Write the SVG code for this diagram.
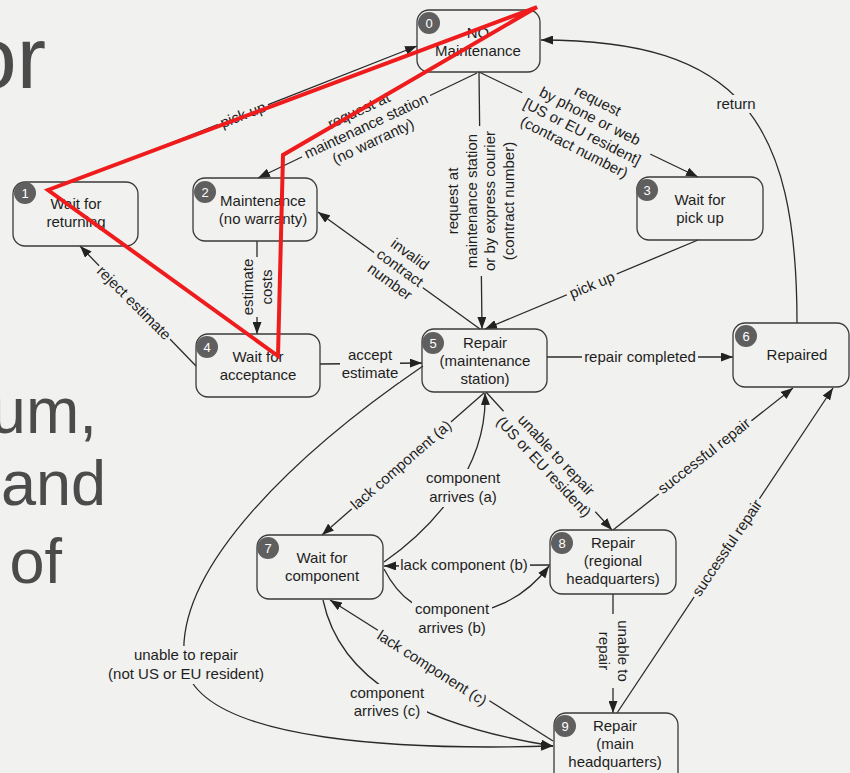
<svg xmlns="http://www.w3.org/2000/svg" width="850" height="773" viewBox="0 0 850 773">
<style>
.bg{fill:#f1f1ef}
.n{fill:none;stroke:#3a3a3a;stroke-width:1.3}
.c{fill:none;stroke:#2a2a2a;stroke-width:1.3}
.a{marker-end:url(#ah)}
.t{font-family:"Liberation Sans",Arial,sans-serif;font-size:15px;fill:#1e1e1e;text-anchor:middle}
.b{fill:#5f5f5f}
.bt{font-family:"Liberation Sans",Arial,sans-serif;font-size:13px;fill:#fff;text-anchor:middle}
.m{fill:#f1f1ef}
.big{font-family:"Liberation Sans",Arial,sans-serif;fill:#4b4b4b;text-anchor:end}
.red{fill:none;stroke:#ee1c1c;stroke-width:4;stroke-linejoin:miter}
</style>
<defs>
<marker id="ah" viewBox="0 0 12 9" refX="12" refY="4.5" markerWidth="12" markerHeight="9" markerUnits="userSpaceOnUse" orient="auto"><path d="M0,0 L12,4.5 L0,9 z" fill="#222"/></marker>
</defs>
<rect class="bg" x="0" y="0" width="850" height="773"/>

<g id="slide-text">
<text class="big" x="46" y="88" font-size="88">or</text>
<text class="big" x="97" y="433" font-size="64">um,</text>
<text class="big" x="106" y="505" font-size="63">and</text>
<text class="big" x="62" y="583" font-size="63">of</text>
</g>

<g id="connectors">
<path class="c a" d="M72,182 L417,46"/>
<path class="c a" d="M477,73 L258,178"/>
<path class="c a" d="M479,72 L482,329"/>
<path class="c a" d="M479,72 L698,177"/>
<path class="c a" d="M698,240 L485,329"/>
<path class="c a" d="M480,329 L318,212"/>
<path class="c a" d="M257,241 L257,334"/>
<path class="c a" d="M196,366 L80,246"/>
<path class="c a" d="M320,364 L422,363"/>
<path class="c a" d="M547,357 L733,357"/>
<path class="c a" d="M797,323 C797,120 740,40 541,40"/>
<path class="c a" d="M486,392 L612,530"/>
<path class="c a" d="M484,393 L322,535"/>
<path class="c a" d="M384,562 C430,530 488,470 485,393"/>
<path class="c a" d="M550,565 L384,566"/>
<path class="c a" d="M384,569 C400,600 420,612 450,614 C490,615 525,598 549,566"/>
<path class="c a" d="M553,741 L330,600"/>
<path class="c a" d="M323,600 C340,680 420,725 553,746"/>
<path class="c a" d="M423,366 C300,450 170,570 185,665 C200,745 420,750 553,746"/>
<path class="c a" d="M613,530 L793,388"/>
<path class="c a" d="M617,713 L833,388"/>
<path class="c a" d="M613,594 L613,713"/>

<g transform="translate(243,115) rotate(-21.5)"><rect class="m" x="-27" y="-8" width="54" height="16"/><text class="t" y="5">pick up</text></g>
<g transform="translate(366,126) rotate(-25)"><rect class="m" x="-71" y="-27" width="142" height="54"/><text class="t" y="-12">request at</text><text class="t" y="5">maintenance station</text><text class="t" y="22">(no warranty)</text></g>
<g transform="translate(481,201) rotate(-90)"><rect class="m" x="-75" y="-37" width="150" height="74"/><text class="t" y="-22.75">request at</text><text class="t" y="-4.25">maintenance station</text><text class="t" y="14.25">or by express courier</text><text class="t" y="32.75">(contract number)</text></g>
<g transform="translate(586,124) rotate(27)"><rect class="m" x="-71" y="-35" width="142" height="70"/><text class="t" y="-21">request</text><text class="t" y="-3.7">by phone or web</text><text class="t" y="13.7">[US or EU resident]</text><text class="t" y="31">(contract number)</text></g>
<g transform="translate(592,285) rotate(-22.6)"><rect class="m" x="-27" y="-8" width="54" height="16"/><text class="t" y="5">pick up</text></g>
<g transform="translate(400,268) rotate(36)"><rect class="m" x="-30" y="-26" width="60" height="52"/><text class="t" y="-12">invalid</text><text class="t" y="5">contract</text><text class="t" y="22">number</text></g>
<g transform="translate(257,287) rotate(-90)"><rect class="m" x="-30" y="-19" width="60" height="38"/><text class="t" y="-4.5">estimate</text><text class="t" y="14.5">costs</text></g>
<g transform="translate(134,303) rotate(45)"><rect class="m" x="-51" y="-8" width="102" height="16"/><text class="t" y="5">reject estimate</text></g>
<g><rect class="m" x="340" y="344" width="60" height="38"/><text class="t" x="370" y="360">accept</text><text class="t" x="370" y="378">estimate</text></g>
<g><rect class="m" x="582" y="349" width="116" height="16"/><text class="t" x="640" y="362">repair completed</text></g>
<g><rect class="m" x="715" y="95" width="42" height="18"/><text class="t" x="736" y="109">return</text></g>
<g transform="translate(550,461) rotate(47)"><rect class="m" x="-68" y="-18" width="136" height="36"/><text class="t" y="-3.5">unable to repair</text><text class="t" y="13.5">(US or EU resident)</text></g>
<g transform="translate(401,465) rotate(-41)"><rect class="m" x="-66" y="-8" width="132" height="16"/><text class="t" y="5">lack component (a)</text></g>
<g><rect class="m" x="423" y="469" width="80" height="38"/><text class="t" x="463" y="483">component</text><text class="t" x="463" y="502">arrives (a)</text></g>
<g><rect class="m" x="399" y="557" width="131" height="16"/><text class="t" x="464" y="570">lack component (b)</text></g>
<g><rect class="m" x="412" y="600" width="80" height="38"/><text class="t" x="452" y="614">component</text><text class="t" x="452" y="633">arrives (b)</text></g>
<g transform="translate(432,668) rotate(32.5)"><rect class="m" x="-66" y="-8" width="132" height="16"/><text class="t" y="5">lack component (c)</text></g>
<g><rect class="m" x="347" y="684" width="80" height="38"/><text class="t" x="387" y="698">component</text><text class="t" x="387" y="716">arrives (c)</text></g>
<g><rect class="m" x="104" y="646" width="164" height="38"/><text class="t" x="186" y="660">unable to repair</text><text class="t" x="186" y="679">(not US or EU resident)</text></g>
<g transform="translate(704,456) rotate(-38)"><rect class="m" x="-59" y="-8" width="118" height="16"/><text class="t" y="5">successful repair</text></g>
<g transform="translate(727,548) rotate(-56)"><rect class="m" x="-59" y="-8" width="118" height="16"/><text class="t" y="5">successful repair</text></g>
<g transform="translate(613,651) rotate(90)"><rect class="m" x="-37" y="-19" width="74" height="38"/><text class="t" y="-4.5">unable to</text><text class="t" y="14.5">repair</text></g>
</g>

<g id="node0"><rect class="n" x="417" y="10" width="123" height="62" rx="12"/><circle class="b" cx="429" cy="23" r="11"/><text class="bt" x="429" y="28">0</text><text class="t" x="478" y="38">NO</text><text class="t" x="478" y="56">Maintenance</text></g>
<g id="node1"><rect class="n" x="13" y="182" width="125" height="64" rx="12"/><circle class="b" cx="25" cy="193" r="11"/><text class="bt" x="25" y="198">1</text><text class="t" x="76" y="209">Wait for</text><text class="t" x="76" y="227">returning</text></g>
<g id="node2"><rect class="n" x="193" y="178" width="124" height="63" rx="12"/><circle class="b" cx="205" cy="192" r="11"/><text class="bt" x="205" y="197">2</text><text class="t" x="263" y="206">Maintenance</text><text class="t" x="263" y="224">(no warranty)</text></g>
<g id="node3"><rect class="n" x="637" y="177" width="126" height="63" rx="12"/><circle class="b" cx="647" cy="190" r="11"/><text class="bt" x="647" y="195">3</text><text class="t" x="700" y="205">Wait for</text><text class="t" x="700" y="223">pick up</text></g>
<g id="node4"><rect class="n" x="196" y="334" width="124" height="63" rx="12"/><circle class="b" cx="207" cy="347" r="11"/><text class="bt" x="207" y="352">4</text><text class="t" x="258" y="362">Wait for</text><text class="t" x="258" y="380">acceptance</text></g>
<g id="node5"><rect class="n" x="422" y="329" width="125" height="63" rx="12"/><circle class="b" cx="433" cy="343" r="11"/><text class="bt" x="433" y="348">5</text><text class="t" x="485" y="348">Repair</text><text class="t" x="485" y="366">(maintenance</text><text class="t" x="485" y="384">station)</text></g>
<g id="node6"><rect class="n" x="733" y="323" width="116" height="64" rx="12"/><circle class="b" cx="746" cy="336" r="11"/><text class="bt" x="746" y="341">6</text><text class="t" x="797" y="360">Repaired</text></g>
<g id="node7"><rect class="n" x="257" y="535" width="126" height="64" rx="12"/><circle class="b" cx="268" cy="548" r="11"/><text class="bt" x="268" y="553">7</text><text class="t" x="322" y="563">Wait for</text><text class="t" x="322" y="581">component</text></g>
<g id="node8"><rect class="n" x="550" y="530" width="126" height="64" rx="12"/><circle class="b" cx="562" cy="543" r="11"/><text class="bt" x="562" y="548">8</text><text class="t" x="613" y="548">Repair</text><text class="t" x="613" y="566">(regional</text><text class="t" x="613" y="584">headquarters)</text></g>
<g id="node9"><rect class="n" x="554" y="713" width="124" height="80" rx="12"/><circle class="b" cx="565" cy="726" r="11"/><text class="bt" x="565" y="731">9</text><text class="t" x="615" y="731">Repair</text><text class="t" x="615" y="749">(main</text><text class="t" x="615" y="767">headquarters)</text></g>

<g id="annotation"><polygon class="red" points="537,7 48,190 278,356 283,155"/></g>
</svg>
